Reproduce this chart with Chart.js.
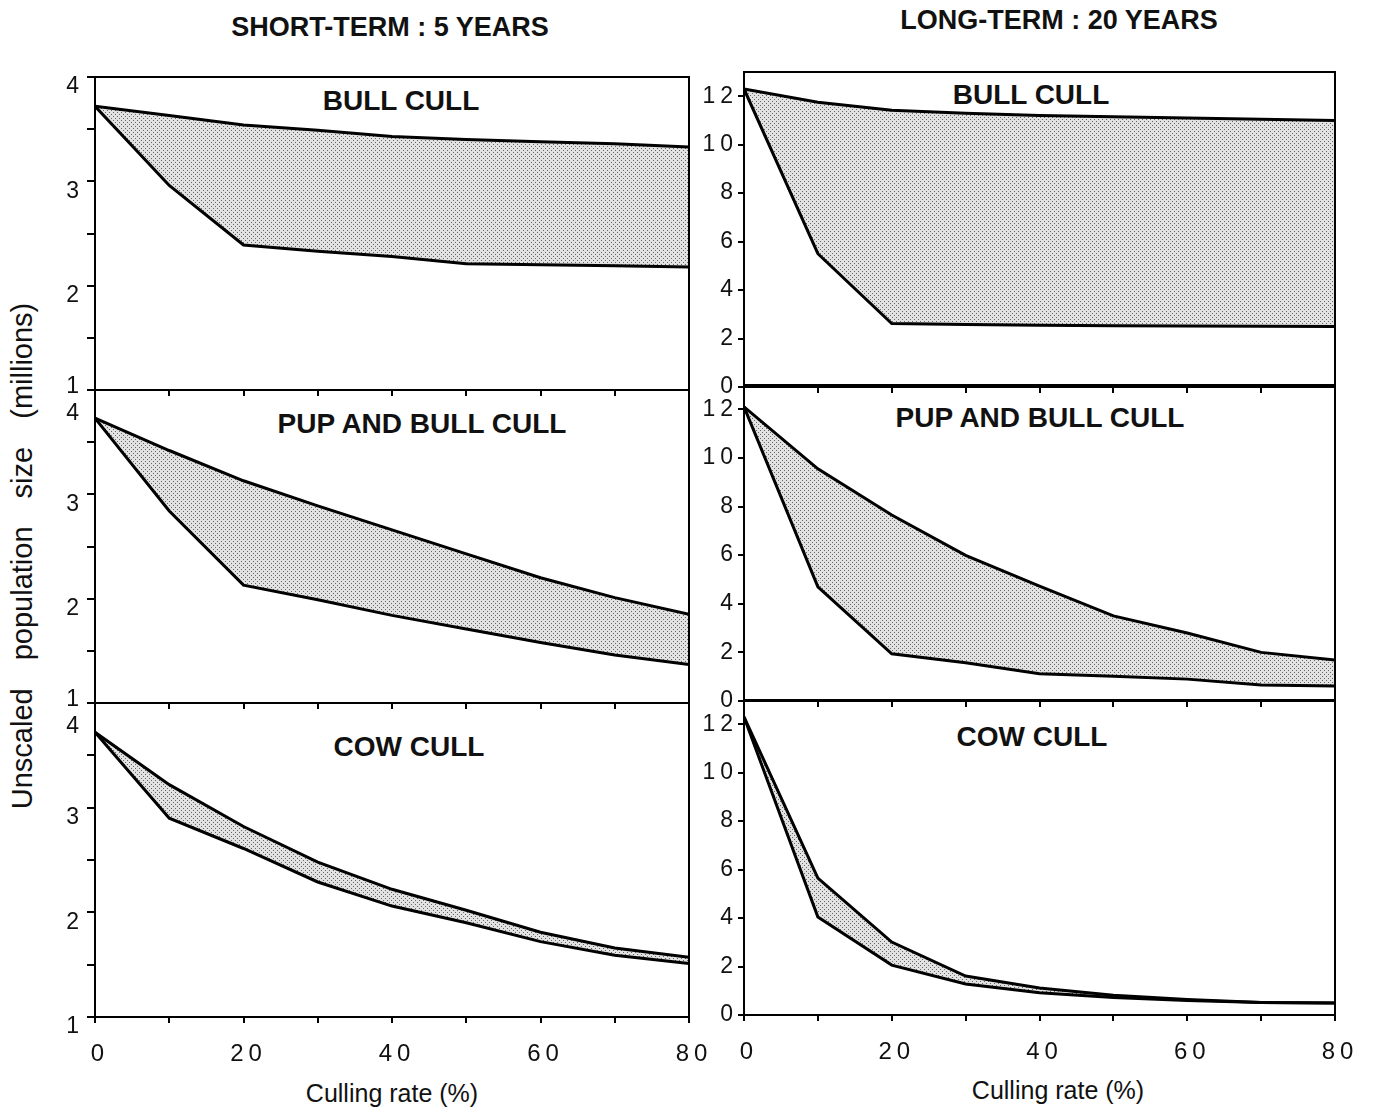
<!DOCTYPE html>
<html>
<head>
<meta charset="utf-8">
<title>Culling rate vs population size</title>
<script src="https://cdn.jsdelivr.net/npm/chart.js@4.4.0/dist/chart.umd.min.js"></script>
<style>
  body { margin: 0; background: #fff; }
  #figure { position: relative; width: 1375px; height: 1112px; overflow: hidden;
            font-family: "Liberation Sans", Arial, Helvetica, sans-serif; color: #111; }
  #figure canvas { position: absolute; }
  .label { position: absolute; transform: translate(-50%, -50%); white-space: nowrap; line-height: 1; }
  .col-title { font-weight: bold; font-size: 27px; }
  .panel-title { font-weight: bold; font-size: 28px; }
  .x-title { font-size: 25px; }
  .y-title { font-size: 29px; word-spacing: 20px; transform: translate(-50%, -50%) rotate(-90deg); }
</style>
</head>
<body>
<div id="figure">
  <div class="label col-title" style="left:390px; top:27px;">SHORT-TERM : 5 YEARS</div>
  <div class="label col-title" style="left:1059px; top:20px;">LONG-TERM : 20 YEARS</div>

  <div class="label panel-title" style="left:401px; top:101px;">BULL CULL</div>
  <div class="label panel-title" style="left:422px; top:424px;">PUP AND BULL CULL</div>
  <div class="label panel-title" style="left:409px; top:747px;">COW CULL</div>
  <div class="label panel-title" style="left:1031px; top:95px;">BULL CULL</div>
  <div class="label panel-title" style="left:1040px; top:418px;">PUP AND BULL CULL</div>
  <div class="label panel-title" style="left:1032px; top:737px;">COW CULL</div>

  <div class="label x-title" style="left:392px; top:1093px;">Culling rate (%)</div>
  <div class="label x-title" style="left:1058px; top:1090px;">Culling rate (%)</div>
  <div class="label y-title" style="left:22px; top:556px;">Unscaled population size (millions)</div>
</div>

<script>
// culling rate (%) on the x axis, shared by every panel
const cullingRate = [0, 10, 20, 30, 40, 50, 60, 70, 80];
const xTickLabels = [0, 20, 40, 60, 80];
const shortYTicks = [1, 2, 3, 4];
const longYTicks = [0, 2, 4, 6, 8, 10, 12];

// short-term (5 years), upper and lower bounds, millions
const shortBullHigh = [3.72, 3.63, 3.54, 3.49, 3.43, 3.40, 3.38, 3.36, 3.33];
const shortBullLow  = [3.72, 2.96, 2.39, 2.33, 2.28, 2.21, 2.20, 2.19, 2.18];
const shortPupHigh  = [3.73, 3.42, 3.13, 2.89, 2.66, 2.43, 2.20, 2.01, 1.85];
const shortPupLow   = [3.73, 2.84, 2.13, 1.99, 1.84, 1.71, 1.58, 1.46, 1.37];
const shortCowHigh  = [3.72, 3.22, 2.82, 2.48, 2.22, 2.02, 1.81, 1.66, 1.57];
const shortCowLow   = [3.72, 2.90, 2.61, 2.29, 2.06, 1.90, 1.72, 1.59, 1.51];

// long-term (20 years)
const longBullHigh = [12.3, 11.75, 11.42, 11.3, 11.2, 11.15, 11.1, 11.05, 11.0];
const longBullLow  = [12.3, 5.5, 2.62, 2.58, 2.55, 2.53, 2.52, 2.51, 2.50];
const longPupHigh  = [12.1, 9.55, 7.65, 5.99, 4.73, 3.5, 2.8, 2.0, 1.69];
const longPupLow   = [12.1, 4.7, 1.94, 1.57, 1.12, 1.02, 0.9, 0.66, 0.62];
const longCowHigh  = [12.3, 5.65, 3.01, 1.61, 1.11, 0.82, 0.64, 0.52, 0.5];
const longCowLow   = [12.3, 4.04, 2.06, 1.28, 0.92, 0.72, 0.6, 0.52, 0.5];

// stippled grey fill between the two bounds
function dotPattern() {
  const c = document.createElement('canvas');
  c.width = 4; c.height = 4;
  const g = c.getContext('2d');
  g.fillStyle = '#e2e2e2';
  g.fillRect(0, 0, 4, 4);
  g.fillStyle = '#666';
  g.fillRect(0, 0, 1, 1);
  g.fillRect(2, 2, 1, 1);
  return g.createPattern(c, 'repeat');
}
const dots = dotPattern();

const toPoints = values => cullingRate.map((x, i) => ({ x: x, y: values[i] }));

// closes the box round each panel and spaces out the tick digits
const framePlugin = {
  id: 'frame',
  beforeDraw(chart) {
    chart.ctx.letterSpacing = '5px';
  },
  afterDraw(chart) {
    const { ctx, chartArea: a } = chart;
    ctx.save();
    ctx.strokeStyle = '#000';
    ctx.lineWidth = 2;
    ctx.strokeRect(a.left, a.top, a.right - a.left, a.bottom - a.top);
    ctx.restore();
  }
};

const Y_AXIS_W = 60;
const PAD_TOP = 15;
const PAD_RIGHT = 30;

function makePanel(p) {
  const xAxisH = p.bottomRow ? 60 : 10;
  const canvas = document.createElement('canvas');
  canvas.width = Y_AXIS_W + p.plotW + PAD_RIGHT;
  canvas.height = PAD_TOP + p.plotH + xAxisH;
  canvas.style.left = (p.plotLeft - Y_AXIS_W) + 'px';
  canvas.style.top = (p.plotTop - PAD_TOP) + 'px';
  document.getElementById('figure').appendChild(canvas);

  const shortTerm = p.term === 'short';
  const yTicks = shortTerm
    ? {
        stepSize: 0.5,
        labelOffset: 10,
        padding: 3,
        callback: v => {
          if (!shortYTicks.includes(v)) return '';
          // stacked panels share an edge: lift the "1" and drop the "4" so they don't collide
          if (v === 1 && !p.bottomRow) return ['1', ''];
          if (v === 4 && !p.topRow) return ['', '4'];
          return String(v);
        }
      }
    : {
        stepSize: 2,
        includeBounds: false,
        padding: 0,
        callback: v => longYTicks.includes(v) ? String(v) : ''
      };

  new Chart(canvas, {
    type: 'line',
    data: {
      datasets: [
        {
          data: toPoints(p.high),
          borderColor: '#000',
          borderWidth: 3,
          pointRadius: 0,
          fill: '+1',
          backgroundColor: dots
        },
        {
          data: toPoints(p.low),
          borderColor: '#000',
          borderWidth: 3,
          pointRadius: 0,
          fill: false
        }
      ]
    },
    options: {
      responsive: false,
      animation: false,
      devicePixelRatio: 1,
      layout: { padding: { top: PAD_TOP, right: PAD_RIGHT, left: 0, bottom: 0 } },
      plugins: {
        legend: { display: false },
        tooltip: { enabled: false },
        filler: { drawTime: 'beforeDatasetsDraw' }
      },
      scales: {
        x: {
          type: 'linear',
          min: 0,
          max: 80,
          grid: { drawOnChartArea: false, tickLength: 6, color: '#000', lineWidth: 2 },
          border: { color: '#000', width: 2 },
          ticks: {
            stepSize: 10,
            autoSkip: false,
            maxRotation: 0,
            padding: 17,
            labelOffset: 5,
            color: '#111',
            font: { family: '"Liberation Sans", Arial, sans-serif', size: 24 },
            callback: v => (p.bottomRow && xTickLabels.includes(v)) ? String(v) : ''
          },
          afterFit(scale) {
            scale.height = xAxisH;
            scale.paddingLeft = 0;
            scale.paddingRight = 0;
          }
        },
        y: {
          min: shortTerm ? 1 : 0,
          max: shortTerm ? 4 : 13,
          grid: { drawOnChartArea: false, tickLength: shortTerm ? 8 : 6, color: '#000', lineWidth: 2 },
          border: { color: '#000', width: 2 },
          ticks: Object.assign({
            autoSkip: false,
            color: '#111',
            font: { family: '"Liberation Sans", Arial, sans-serif', size: 23 }
          }, yTicks),
          afterFit(scale) {
            scale.width = Y_AXIS_W;
            scale.paddingTop = 0;
            scale.paddingBottom = 0;
          }
        }
      }
    },
    plugins: [framePlugin]
  });
}

// left column: 5-year runs
makePanel({ term: 'short', plotLeft: 95, plotTop: 77,  plotW: 594, plotH: 313, high: shortBullHigh, low: shortBullLow, topRow: true });
makePanel({ term: 'short', plotLeft: 95, plotTop: 390, plotW: 594, plotH: 313, high: shortPupHigh,  low: shortPupLow });
makePanel({ term: 'short', plotLeft: 95, plotTop: 703, plotW: 594, plotH: 314, high: shortCowHigh,  low: shortCowLow, bottomRow: true });

// right column: 20-year runs
makePanel({ term: 'long', plotLeft: 744, plotTop: 72,  plotW: 591, plotH: 315, high: longBullHigh, low: longBullLow, topRow: true });
makePanel({ term: 'long', plotLeft: 744, plotTop: 385, plotW: 591, plotH: 316, high: longPupHigh,  low: longPupLow });
makePanel({ term: 'long', plotLeft: 744, plotTop: 700, plotW: 591, plotH: 315, high: longCowHigh,  low: longCowLow, bottomRow: true });
</script>
</body>
</html>
